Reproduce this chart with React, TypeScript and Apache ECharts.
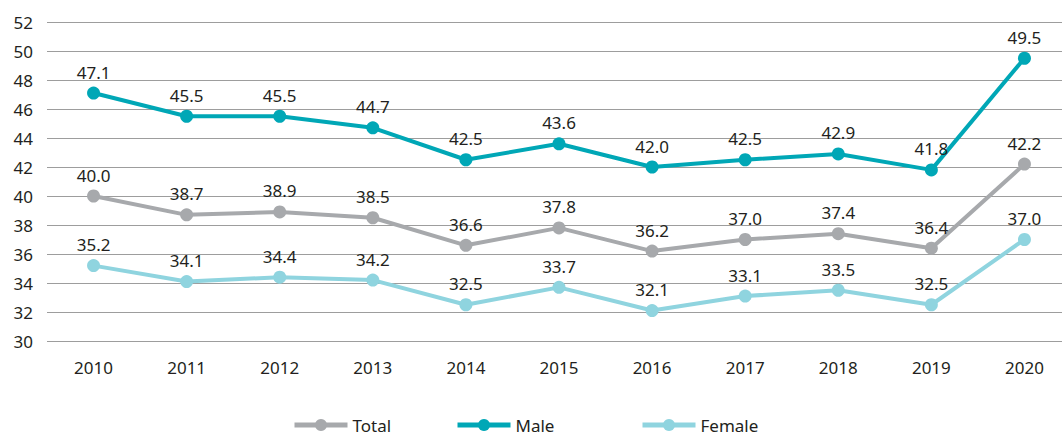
import React, { useEffect, useRef } from "react";
import * as echarts from "echarts";

const years = ["2010", "2011", "2012", "2013", "2014", "2015", "2016", "2017", "2018", "2019", "2020"];
const total = [40.0, 38.7, 38.9, 38.5, 36.6, 37.8, 36.2, 37.0, 37.4, 36.4, 42.2];
const male = [47.1, 45.5, 45.5, 44.7, 42.5, 43.6, 42.0, 42.5, 42.9, 41.8, 49.5];
const female = [35.2, 34.1, 34.4, 34.2, 32.5, 33.7, 32.1, 33.1, 33.5, 32.5, 37.0];

const FONT = "Noto Sans";
const TEXT = "#231f20";

export default function App() {
  const ref = useRef<HTMLDivElement>(null);
  useEffect(() => {
    const chart = echarts.init(ref.current!, null, { renderer: "svg" });
    const mk = (name: string, data: number[], color: string) => ({
      name,
      type: "line",
      data,
      symbol: "circle",
      symbolSize: 13,
      lineStyle: { width: 4, color },
      itemStyle: { color },
      label: {
        show: true,
        position: "top",
        distance: 6,
        fontFamily: FONT,
        fontSize: 17,
        color: TEXT,
        formatter: (p: any) => Number(p.value).toFixed(1),
      },
    });
    const legendBase = {
      top: 411,
      itemWidth: 53,
      itemHeight: 15,
      itemGap: 13,
      lineStyle: { width: 5 },
      textStyle: { fontFamily: FONT, fontSize: 17, lineHeight: 18, color: TEXT },
    };
    chart.setOption({
      animation: false,
      grid: { left: 47, right: 0, top: 22, bottom: 95 },
      legend: [
        { ...legendBase, left: 287, data: ["Total"] },
        { ...legendBase, left: 450, data: ["Male"] },
        { ...legendBase, left: 635, data: ["Female"] },
      ],
      xAxis: {
        type: "category",
        data: years,
        axisLine: { show: false },
        axisTick: { show: false },
        axisLabel: { margin: 18, fontFamily: FONT, fontSize: 17, color: TEXT },
      },
      yAxis: {
        type: "value",
        min: 30,
        max: 52,
        interval: 2,
        axisLine: { show: false },
        axisTick: { show: false },
        axisLabel: { margin: 14, fontFamily: FONT, fontSize: 17, color: TEXT },
        splitLine: { lineStyle: { color: "#9d9d9d", width: 1 } },
      },
      series: [
        mk("Total", total, "#a7a9ac"),
        mk("Male", male, "#00a7b6"),
        mk("Female", female, "#8fd4df"),
      ],
    });
    return () => chart.dispose();
  }, []);
  return (
    <div style={{ position: "absolute", left: 0, top: 0, width: 1062, height: 436, overflow: "hidden", background: "#fff" }}>
      <div ref={ref} style={{ position: "absolute", left: 0, top: 0, width: 1071, height: 436 }} />
    </div>
  );
}
